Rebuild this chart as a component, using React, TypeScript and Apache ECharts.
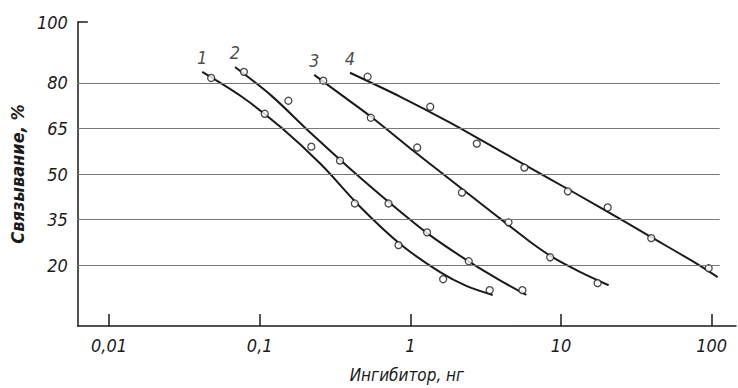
import React, { useEffect, useRef } from "react";
import * as echarts from "echarts";

// ---- data (inhibitor, ng  /  binding, %) ----
const curveNames = ["1", "2", "3", "4"];

// measured points (open circles)
const pts1X = [0.0476, 0.108, 0.22, 0.428, 0.834, 1.65, 3.36];
const pts1Y = [81.6, 69.8, 59.0, 40.3, 26.6, 15.4, 11.8];
const pts2X = [0.0785, 0.155, 0.341, 0.716, 1.29, 2.44, 5.54];
const pts2Y = [83.6, 74.1, 54.4, 40.3, 30.8, 21.3, 11.8];
const pts3X = [0.264, 0.546, 1.11, 2.2, 4.48, 8.47, 17.5];
const pts3Y = [80.7, 68.5, 58.7, 43.9, 34.1, 22.6, 14.1];
const pts4X = [0.52, 1.355, 2.76, 5.71, 11.1, 20.4, 39.7, 95.5];
const pts4Y = [82.0, 72.1, 60.0, 52.1, 44.3, 39.0, 28.9, 19.0];

// fitted curves
const fit1X = [0.0415, 0.0761, 0.1395, 0.2558, 0.469, 0.859, 1.575, 2.37, 3.52];
const fit1Y = [83.6, 75.4, 65.2, 53.1, 39.0, 26.9, 17.7, 13.1, 10.2];
const fit2X = [0.0685, 0.1199, 0.2198, 0.403, 0.7385, 1.354, 2.481, 3.909, 5.886];
const fit2Y = [85.2, 75.7, 63.3, 51.5, 40.3, 29.8, 21.0, 15.1, 10.2];
const fit3X = [0.23, 0.3464, 0.5456, 1.0, 1.833, 3.36, 6.16, 9.0, 13.13, 20.7];
const fit3Y = [82.6, 76.1, 68.9, 58.4, 48.2, 38.0, 27.9, 22.3, 18.0, 13.4];
const fit4X = [0.397, 0.859, 1.833, 3.909, 8.34, 17.78, 37.9, 80.9, 109.5];
const fit4Y = [83.3, 75.4, 66.9, 57.7, 48.5, 39.3, 29.8, 20.3, 16.1];

// axes
const xTickValues = [0.01, 0.1, 1, 10, 100];
const xTickLabels = ["0,01", "0,1", "1", "10", "100"];
const yTickValues = [20, 35, 50, 65, 80, 100];
const gridValues = [20, 35, 50, 65, 80];
const xLow = 0.0062;
const xHigh = 145;
const gridEndX = 113;

const FONT = "'DejaVu Sans Condensed', 'DejaVu Sans', sans-serif";
const INK = "#1a1a1a";

const lg = (v: number) => Math.log10(v);
const pairs = (xs: number[], ys: number[]) => xs.map((x, i) => [lg(x), ys[i]]);

export default function App() {
  const ref = useRef<HTMLDivElement>(null);

  useEffect(() => {
    if (!ref.current) return;
    const chart = echarts.init(ref.current, null, { renderer: "svg" });

    const pts = [
      [pts1X, pts1Y],
      [pts2X, pts2Y],
      [pts3X, pts3Y],
      [pts4X, pts4Y],
    ];
    const fits = [
      [fit1X, fit1Y],
      [fit2X, fit2Y],
      [fit3X, fit3Y],
      [fit4X, fit4Y],
    ];

    const series: any[] = [];
    fits.forEach(([xs, ys], i) => {
      series.push({
        type: "line",
        name: "fit" + curveNames[i],
        data: pairs(xs, ys),
        smooth: 0.3,
        showSymbol: false,
        symbol: "none",
        lineStyle: { color: INK, width: 2 },
        silent: true,
        z: 3,
      });
    });
    pts.forEach(([xs, ys], i) => {
      series.push({
        type: "scatter",
        name: "pts" + curveNames[i],
        data: pairs(xs, ys),
        symbol: "circle",
        symbolSize: 7,
        itemStyle: { color: "#fff", borderColor: INK, borderWidth: 1.3 },
        z: 4,
      });
    });
    // curve number labels at the start of each fitted curve
    series.push({
      type: "scatter",
      name: "labels",
      symbolSize: 0,
      silent: true,
      data: fits.map(([xs, ys], i) => ({
        value: [lg(xs[0]), ys[0]],
        label: {
          show: true,
          formatter: curveNames[i],
          position: "top",
          distance: 5,
          fontSize: 18,
          fontStyle: "italic",
          fontFamily: FONT,
          color: INK,
        },
      })),
    });
    // horizontal grid lines
    series.push({
      type: "line",
      name: "grid",
      data: [],
      silent: true,
      markLine: {
        silent: true,
        symbol: ["none", "none"],
        label: { show: false },
        lineStyle: { color: "#777", width: 1, type: "solid" },
        data: gridValues.map((g) => [
          { coord: [lg(xLow), g] },
          { coord: [lg(gridEndX), g] },
        ]),
      },
      z: 1,
    });

    chart.setOption({
      animation: false,
      backgroundColor: "#fff",
      grid: { left: 73, right: 2, top: 22, bottom: 61 },
      xAxis: {
        type: "value",
        min: lg(xLow),
        max: lg(xHigh),
        name: "Ингибитор, нг",
        nameLocation: "middle",
        nameGap: 40,
        nameTextStyle: { fontSize: 17, fontStyle: "italic", fontFamily: FONT, color: INK },
        axisLine: { show: true, onZero: false, lineStyle: { color: INK, width: 1.5 } },
        axisTick: {
          show: true,
          inside: true,
          length: 12,
          customValues: xTickValues.map(lg),
          lineStyle: { color: INK, width: 1.5 },
        },
        axisLabel: {
          show: true,
          customValues: xTickValues.map(lg),
          formatter: (v: number) => {
            const idx = xTickValues.findIndex((t) => Math.abs(lg(t) - v) < 1e-6);
            return idx >= 0 ? xTickLabels[idx] : "";
          },
          margin: 10,
          fontSize: 18,
          fontStyle: "italic",
          fontFamily: FONT,
          color: INK,
        },
        splitLine: { show: false },
      },
      yAxis: {
        type: "value",
        min: 0,
        max: 100,
        name: "Связывание, %",
        nameLocation: "middle",
        nameGap: 44,
        nameRotate: 90,
        nameTextStyle: {
          fontSize: 18,
          fontStyle: "italic",
          fontWeight: "bold",
          fontFamily: FONT,
          color: INK,
        },
        axisLine: { show: true, onZero: false, lineStyle: { color: INK, width: 1.5 } },
        axisTick: {
          show: true,
          inside: true,
          length: 10,
          customValues: [100],
          lineStyle: { color: INK, width: 1.5 },
        },
        axisLabel: {
          show: true,
          customValues: yTickValues,
          margin: 10,
          fontSize: 18,
          fontStyle: "italic",
          fontFamily: FONT,
          color: INK,
        },
        splitLine: { show: false },
      },
      series,
    });

    return () => chart.dispose();
  }, []);

  return <div ref={ref} style={{ width: 738, height: 388, position: "absolute", left: 0, top: 0 }} />;
}
